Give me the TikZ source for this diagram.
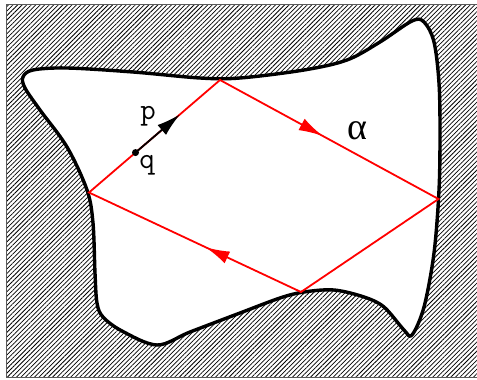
\documentclass[tikz,border=0pt]{standalone}
\usepackage{fontspec}
\newfontfamily\alphafont{Liberation Serif}
\usetikzlibrary{patterns.meta,arrows.meta,decorations.markings,calc}
\tikzset{mytip/.tip={Latex[length=24pt,width=13pt]}}
\begin{document}
\begin{tikzpicture}[x=1pt,y=-1pt,
  blob/.style={line width=3.4pt,line join=round},
  redline/.style={red,line width=1.8pt,line join=miter},
  hatch/.style={pattern={Lines[angle=45,distance=3.2pt,line width=0.75pt]}},
  lbl/.style={font=\ttfamily\fontsize{30}{31}\selectfont,inner sep=0pt}]
\useasboundingbox (0,0) rectangle (477,380);
\def\blobpath{plot[smooth cycle,tension=0.55] coordinates {
  (23,77) (33,70) (67,68) (133,72) (200,78) (240,78) (304,70) (347,60) (380,42)
  (412,21) (424,22) (434,42) (439,83) (440,133) (439,190) (434,253) (424,307)
  (412,335) (404,330) (384,307) (364,297) (334,290) (304,292) (280,298) (240,313)
  (190,332) (157,345) (122,331) (103,317) (97,303) (95,273) (93,223)
  (87,190) (67,147) (40,110) (25,88)}}
% hatched frame with blob hole
\path[hatch,even odd rule] (6,4) rectangle (480,377) \blobpath;
\draw[gray!70!black,line width=0.9pt] (480,377) -- (6,377) -- (6,4) -- (480,4);
\draw[blob] \blobpath;
% red quadrilateral
\coordinate (A) at (220,80);
\coordinate (B) at (438.5,199);
\coordinate (C) at (301,292);
\coordinate (D) at (89,192.5);
\draw[redline] (A) -- (B) -- (C) -- (D) -- cycle;
\path[redline,postaction={decorate},
  decoration={markings,mark=at position 0.47 with {\arrow[red]{mytip}}}]
  (A) -- (B);
\path[redline,postaction={decorate},
  decoration={markings,mark=at position 0.45 with {\arrow[red]{mytip}}}]
  (C) -- (D);
% tangent vector
\coordinate (q) at ($(D)!0.355!(A)$);
\coordinate (pt) at ($(D)!0.695!(A)$);
\draw[line width=1.8pt,-{mytip}] (q) -- (pt);
\fill (q) circle (3.5pt);
\node[lbl] (plab) at (148,116) {p};
\node[lbl] (qlab) at (147,165) {q};
\node[inner sep=0pt,font=\alphafont\fontsize{38}{40}\selectfont] (alpha) at (357,131) {α};
\end{tikzpicture}
\end{document}
